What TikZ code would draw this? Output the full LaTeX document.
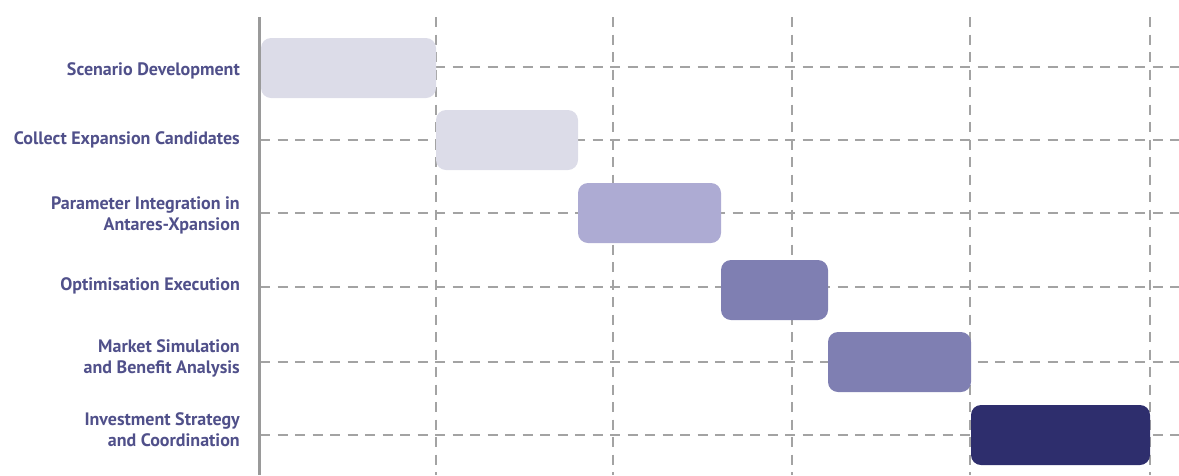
\documentclass[tikz,border=0pt]{standalone}
\usepackage{fontspec}
\setmainfont{PT Sans}
\definecolor{lbl}{HTML}{50508A}
\definecolor{gridc}{HTML}{A3A3A3}
\definecolor{axisc}{HTML}{9A9A9A}
\definecolor{cA}{HTML}{DCDCE8}
\definecolor{cB}{HTML}{ADABD3}
\definecolor{cC}{HTML}{7F7FB2}
\definecolor{cD}{HTML}{2E2E6D}
\tikzset{
  gridline/.style={draw=gridc, line width=2pt, dash pattern=on 10pt off 7.5pt},
  axisline/.style={draw=axisc, line width=3pt},
  taskbar/.style={rounded corners=10pt, draw=none, inner sep=0pt, minimum height=60pt},
  tasklabel/.style={anchor=east, align=right, text=lbl, inner sep=0pt,
    font=\bfseries\fontsize{18}{21}\selectfont},
}
\begin{document}
\begin{tikzpicture}[x=1pt,y=-1pt]
\useasboundingbox (0,0) rectangle (1179,475);
% grid
\foreach \gx in {436,613,792,970,1150}
  \draw[gridline] (\gx,17) -- (\gx,475);
\foreach \gy in {67,140,213,287,362,435}
  \draw[gridline] (260,\gy) -- (1179,\gy);
\draw[axisline] (259,17) -- (259,475);
% bars
\node[taskbar, fill=cA, minimum width=175pt] (b1) at (348.5,68) {};
\node[taskbar, fill=cA, minimum width=142pt] (b2) at (507,140) {};
\node[taskbar, fill=cB, minimum width=143pt] (b3) at (649.5,213) {};
\node[taskbar, fill=cC, minimum width=107pt] (b4) at (774.5,290) {};
\node[taskbar, fill=cC, minimum width=143pt] (b5) at (899.5,362) {};
\node[taskbar, fill=cD, minimum width=179pt] (b6) at (1060.5,435) {};
% labels
\node[tasklabel] (l1) at (240,71) {Scenario Development};
\node[tasklabel] (l2) at (240,140) {Collect Expansion Candidates};
\node[tasklabel] (l3) at (240,215) {Parameter Integration in\\Antares-Xpansion};
\node[tasklabel] (l4) at (240,286) {Optimisation Execution};
\node[tasklabel] (l5) at (240,358) {Market Simulation\\and Benefit Analysis};
\node[tasklabel] (l6) at (240,430) {Investment Strategy\\and Coordination};
\end{tikzpicture}
\end{document}
